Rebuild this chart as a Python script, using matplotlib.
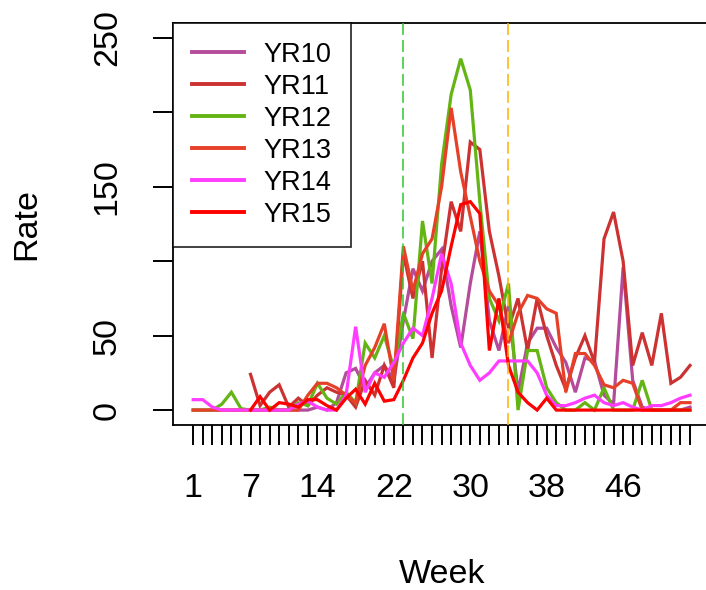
import numpy as np
import matplotlib
matplotlib.use("Agg")
import matplotlib.pyplot as plt

plt.rcParams['font.family'] = ['Liberation Sans', 'DejaVu Sans']

nan = np.nan
weeks = list(range(1, 54))
series_names = ["YR10", "YR11", "YR12", "YR13", "YR14", "YR15"]
series_colors = ["#B44B9B", "#CD3232", "#64B414", "#E64128", "#FF3CFF", "#FF0000"]

yr10 = [0, 0, 0, 0, 0, 0, 0, 0, 0, 0, 0, 0, 0, 2, 0,
        5, 25, 28, 15, 25, 30, 20, 60, 95, 80, 100, 108, 70, 42, 85,
        120, 60, 40, 70, 12, 45, 55, 55, 42, 32, 12, 35, 33, 10, 4,
        96, 20, 2, 0, 0, 0, 0, 2]
yr11 = [nan, nan, nan, nan, nan, nan, 24, 3, 12, 17, 2, 8, 3, 10, 15,
        12, 10, 2, 20, 10, 30, 15, 105, 75, 100, 35, 95, 140, 120, 180,
        175, 120, 90, 55, 75, 40, 75, 50, 30, 14, 35, 50, 32, 115, 133,
        100, 30, 52, 30, 65, 18, 22, 30]
yr12 = [0, 0, 0, 4, 12, 1, 0, 0, 2, 0, 0, 5, 3, 18, 8,
        4, 12, 5, 45, 35, 50, 28, 65, 48, 127, 85, 165, 212, 236, 215,
        140, 75, 60, 85, 0, 40, 40, 15, 5, 0, 0, 5, 0, 15, 0,
        0, 0, 20, 0, 0, 0, 0, 0]
yr13 = [0, 0, 0, 0, 0, 0, 0, 0, 0, 0, 0, 0, 10, 18, 18,
        15, 10, 5, 30, 42, 58, 20, 110, 80, 105, 115, 150, 203, 160, 130,
        100, 80, 70, 45, 65, 77, 75, 68, 65, 12, 38, 38, 30, 17, 15,
        20, 18, 0, 0, 0, 0, 5, 5]
yr14 = [7, 7, 2, 0, 0, 0, 0, 0, 0, 0, 0, 4, 6, 2, 0,
        0, 10, 56, 12, 25, 22, 32, 45, 55, 50, 75, 105, 85, 45, 30,
        20, 25, 33, 33, 33, 33, 25, 10, 3, 3, 5, 8, 10, 5, 3,
        5, 2, 0, 3, 3, 5, 8, 10]
yr15 = [nan, nan, nan, nan, nan, nan, 0, 9, 0, 5, 4, 2, 7, 7, 3,
        0, 8, 14, 4, 18, 6, 7, 20, 35, 45, 65, 80, 110, 138, 140,
        132, 40, 75, 30, 12, 5, 0, 8, 0, 0, 0, 0, 0, 0, 0,
        0, 0, 0, 0, 0, 0, 0, 0]
series_values = [yr10, yr11, yr12, yr13, yr14, yr15]

vline_weeks = [23, 34]
vline_colors = ["#2DC82D", "#FFB000"]

x_labels_shown = [1, 7, 14, 22, 30, 38, 46]
y_ticks = [0, 50, 100, 150, 200, 250]
y_labels_shown = [0, 50, 150, 250]

fig = plt.figure(figsize=(7.06, 5.90), dpi=100)
ax = fig.add_axes([0.2455, 0.2797, 0.760, 0.6814])

for name, col, vals in zip(series_names, series_colors, series_values):
    ax.plot(weeks, vals, color=col, lw=2.3, label=name, solid_joinstyle='miter')

for w, c in zip(vline_weeks, vline_colors):
    ax.axvline(w, color=c, lw=1.1, linestyle=(0, (7.8, 3.3)), zorder=5)

ax.set_xlim(-1.08, 55.08)
ax.set_ylim(-10, 260)

ax.set_xticks(weeks)
ax.set_xticklabels([str(w) if w in x_labels_shown else "" for w in weeks])
ax.set_yticks(y_ticks)
ax.set_yticklabels([str(v) if v in y_labels_shown else "" for v in y_ticks],
                   rotation=90, va='center')

ax.tick_params(axis='both', direction='out', length=14.4, width=1.4,
               labelsize=24.5, colors='black')
ax.tick_params(axis='x', pad=20.5)
ax.tick_params(axis='y', pad=22)

for sp in ax.spines.values():
    sp.set_linewidth(1.3)
    sp.set_color('black')

ax.set_xlabel("Week", fontsize=24.5, labelpad=39)
ax.set_ylabel("Rate", fontsize=24.5, labelpad=36)

leg = ax.legend(loc='upper left', bbox_to_anchor=(0, 1), borderaxespad=0,
                fontsize=19.5, frameon=True, fancybox=False,
                handlelength=1.9, handletextpad=0.74, borderpad=0.7,
                labelspacing=0.22)
leg.get_frame().set_edgecolor('black')
leg.get_frame().set_linewidth(1.3)
for line in leg.get_lines():
    line.set_linewidth(2.8)

fig.savefig("out.png", dpi=100)
